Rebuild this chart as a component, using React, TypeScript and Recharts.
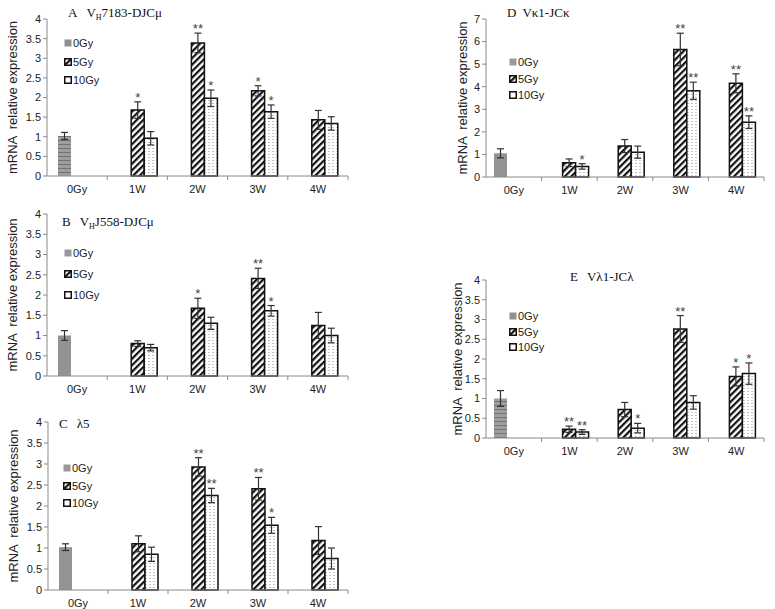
import { BarChart, Bar, XAxis, YAxis, ErrorBar, LabelList } from "recharts";

const FONT = '"Liberation Sans", Arial, sans-serif';
const SERIF = '"Liberation Serif", "Times New Roman", serif';
const AXIS = "#8a8a8a";

const categories = ["0Gy", "1W", "2W", "3W", "4W"];
const ticks4 = [0, 0.5, 1, 1.5, 2, 2.5, 3, 3.5, 4];
const ticks7 = [0, 1, 2, 3, 4, 5, 6, 7];

// A  VH7183-DJCmu
const aCtrl = [1.02, null, null, null, null];
const aCtrlErr = [0.09, null, null, null, null];
const a5Gy = [null, 1.68, 3.39, 2.17, 1.43];
const a5GyErr = [null, 0.21, 0.25, 0.13, 0.24];
const a5GyStar = ["", "*", "**", "*", ""];
const a10Gy = [null, 0.96, 1.98, 1.64, 1.34];
const a10GyErr = [null, 0.17, 0.21, 0.17, 0.17];
const a10GyStar = ["", "", "*", "*", ""];

// B  VHJ558-DJCmu
const bCtrl = [1.0, null, null, null, null];
const bCtrlErr = [0.12, null, null, null, null];
const b5Gy = [null, 0.8, 1.67, 2.41, 1.25];
const b5GyErr = [null, 0.07, 0.25, 0.25, 0.32];
const b5GyStar = ["", "", "*", "**", ""];
const b10Gy = [null, 0.7, 1.3, 1.61, 1.0];
const b10GyErr = [null, 0.08, 0.15, 0.13, 0.18];
const b10GyStar = ["", "", "", "*", ""];

// C  lambda5
const cCtrl = [1.02, null, null, null, null];
const cCtrlErr = [0.08, null, null, null, null];
const c5Gy = [null, 1.1, 2.93, 2.41, 1.18];
const c5GyErr = [null, 0.19, 0.22, 0.27, 0.33];
const c5GyStar = ["", "", "**", "**", ""];
const c10Gy = [null, 0.85, 2.25, 1.54, 0.75];
const c10GyErr = [null, 0.17, 0.17, 0.19, 0.25];
const c10GyStar = ["", "", "**", "*", ""];

// D  Vk1-JCk
const dCtrl = [1.05, null, null, null, null];
const dCtrlErr = [0.2, null, null, null, null];
const d5Gy = [null, 0.63, 1.37, 5.65, 4.15];
const d5GyErr = [null, 0.17, 0.29, 0.72, 0.42];
const d5GyStar = ["", "", "", "**", "**"];
const d10Gy = [null, 0.47, 1.1, 3.82, 2.43];
const d10GyErr = [null, 0.12, 0.27, 0.38, 0.28];
const d10GyStar = ["", "*", "", "**", "**"];

// E  Vl1-JCl
const eCtrl = [1.0, null, null, null, null];
const eCtrlErr = [0.2, null, null, null, null];
const e5Gy = [null, 0.22, 0.72, 2.76, 1.56];
const e5GyErr = [null, 0.08, 0.18, 0.34, 0.24];
const e5GyStar = ["", "**", "", "**", "*"];
const e10Gy = [null, 0.15, 0.25, 0.9, 1.63];
const e10GyErr = [null, 0.06, 0.12, 0.17, 0.27];
const e10GyStar = ["", "**", "*", "", "*"];

type Num = number | null;

function makeRows(
  ctrl: Num[], ctrlErr: Num[],
  g5: Num[], g5Err: Num[], g5Star: string[],
  g10: Num[], g10Err: Num[], g10Star: string[]
) {
  return categories.map((cat, i) => ({
    cat,
    g0: ctrl[i],
    e0: ctrlErr[i],
    g5: g5[i],
    e5: g5Err[i],
    s5: g5Star[i] ? `${g5Star[i]}|${g5Err[i]}` : "",
    g10: g10[i],
    e10: g10Err[i],
    s10: g10Star[i] ? `${g10Star[i]}|${g10Err[i]}` : "",
  }));
}

function CatTick(props: any) {
  const { x, y, payload, band } = props;
  return (
    <g>
      <line x1={x + band / 2} x2={x + band / 2} y1={y} y2={y + 4} stroke={AXIS} />
      <text x={x} y={y + 17} textAnchor="middle" fontSize={11} fontFamily={FONT} fill="#222">
        {payload.value}
      </text>
    </g>
  );
}

function YLabel(props: any) {
  const vb = props.viewBox || {};
  const left = vb.x ?? 0;
  const width = vb.width ?? props.axisW;
  const cx = left + width - props.gap;
  const cy = (vb.y ?? props.top) + (vb.height ?? props.h) / 2;
  return (
    <text
      x={cx}
      y={cy}
      transform={`rotate(-90 ${cx} ${cy})`}
      textAnchor="middle"
      dominantBaseline="central"
      fontSize={13}
      fontFamily={FONT}
      fill="#222"
      style={{ whiteSpace: "pre" }}
    >
      {"mRNA  relative expression"}
    </text>
  );
}

function Star(props: any) {
  const raw = props.value;
  if (!raw) return null;
  const [s, e] = String(raw).split("|");
  const vb = props.viewBox && props.viewBox.x != null ? props.viewBox : props;
  const cx = Number(vb.x) + Number(vb.width) / 2;
  const top = Number(vb.y);
  const y = top - Number(e) * props.ppu;
  return (
    <text x={cx} y={y} textAnchor="middle" fontSize={13} fontFamily={FONT} fill="#444">
      {s}
    </text>
  );
}

function LegendBox({ x, y, step, striped }: { x: number; y: number; step: number; striped: boolean }) {
  const items = ["0Gy", "5Gy", "10Gy"];
  return (
    <div style={{ position: "absolute", left: x, top: y, fontFamily: FONT, fontSize: 11, color: "#222" }}>
      {items.map((label, i) => (
        <div
          key={label}
          style={{ position: "absolute", left: 0, top: i * step, height: 12, display: "flex", alignItems: "center", whiteSpace: "nowrap" }}
        >
          <svg width={8} height={8} style={{ marginRight: 1 }}>
            {i === 0 && <rect x={0.5} y={0.5} width={7} height={7} fill={striped ? "#8f8f8f" : "#999"} />}
            {i === 1 && <rect x={0.75} y={0.75} width={6.5} height={6.5} fill="url(#hatch)" stroke="#111" strokeWidth={1.5} />}
            {i === 2 && <rect x={0.75} y={0.75} width={6.5} height={6.5} fill="#fff" stroke="#111" strokeWidth={1.5} />}
          </svg>
          <span>{label}</span>
        </div>
      ))}
    </div>
  );
}

interface PanelProps {
  rows: ReturnType<typeof makeRows>;
  x: number;
  y: number;
  w: number;
  h: number;
  yMax: number;
  ticks: number[];
  striped: boolean;
  labelGap: number;
  title: React.ReactNode;
  titleX: number;
  titleY: number;
  legendX: number;
  legendY: number;
  legendStep: number;
}

function Panel(p: PanelProps) {
  const top = 10;
  const axisW = 48;
  const bottomH = 26;
  const ppu = p.h / p.yMax;
  const band = p.w / categories.length;
  return (
    <>
      <div style={{ position: "absolute", left: p.x - axisW, top: p.y - top }}>
        <BarChart
          width={p.w + axisW + 6}
          height={p.h + top + bottomH}
          data={p.rows}
          margin={{ top, right: 6, left: 0, bottom: 0 }}
          barSize={13}
          barGap={0}
        >
          <XAxis
            dataKey="cat"
            height={bottomH}
            stroke={AXIS}
            tickLine={false}
            tickSize={0}
            tickMargin={0}
            interval={0}
            tick={(t: any) => <CatTick {...t} band={band} />}
          />
          <YAxis
            width={axisW}
            domain={[0, p.yMax]}
            ticks={p.ticks}
            interval={0}
            stroke={AXIS}
            tickSize={4}
            tickMargin={2}
            tick={{ fill: "#222", fontSize: 11, fontFamily: FONT }}
            label={{ content: (l: any) => <YLabel {...l} gap={p.labelGap} axisW={axisW} top={top} h={p.h} /> }}
          />
          <Bar dataKey="g0" fill={p.striped ? "url(#hstripe)" : "#939393"} isAnimationActive={false}>
            <ErrorBar dataKey="e0" width={3.5} stroke="#333" strokeWidth={1.2} direction="y" />
          </Bar>
          <Bar dataKey="g5" fill="url(#hatch)" stroke="#111" strokeWidth={1.5} isAnimationActive={false}>
            <ErrorBar dataKey="e5" width={3.5} stroke="#333" strokeWidth={1.2} direction="y" />
            <LabelList dataKey="s5" content={(l: any) => <Star {...l} ppu={ppu} />} />
          </Bar>
          <Bar dataKey="g10" fill="url(#dots)" stroke="#111" strokeWidth={1.5} isAnimationActive={false}>
            <ErrorBar dataKey="e10" width={3.5} stroke="#333" strokeWidth={1.2} direction="y" />
            <LabelList dataKey="s10" content={(l: any) => <Star {...l} ppu={ppu} />} />
          </Bar>
        </BarChart>
      </div>
      <div
        style={{ position: "absolute", left: p.titleX, top: p.titleY, fontFamily: SERIF, fontSize: 13, color: "#111", whiteSpace: "nowrap", lineHeight: "14px" }}
      >
        {p.title}
      </div>
      <LegendBox x={p.legendX} y={p.legendY} step={p.legendStep} striped={p.striped} />
    </>
  );
}

const sub = { fontSize: 8, verticalAlign: "-3px" } as const;

export default function App() {
  const rowsA = makeRows(aCtrl, aCtrlErr, a5Gy, a5GyErr, a5GyStar, a10Gy, a10GyErr, a10GyStar);
  const rowsB = makeRows(bCtrl, bCtrlErr, b5Gy, b5GyErr, b5GyStar, b10Gy, b10GyErr, b10GyStar);
  const rowsC = makeRows(cCtrl, cCtrlErr, c5Gy, c5GyErr, c5GyStar, c10Gy, c10GyErr, c10GyStar);
  const rowsD = makeRows(dCtrl, dCtrlErr, d5Gy, d5GyErr, d5GyStar, d10Gy, d10GyErr, d10GyStar);
  const rowsE = makeRows(eCtrl, eCtrlErr, e5Gy, e5GyErr, e5GyStar, e10Gy, e10GyErr, e10GyStar);

  return (
    <div style={{ position: "absolute", left: 0, top: 0, width: 775, height: 609, background: "#fff", overflow: "hidden" }}>
      <svg width={0} height={0} style={{ position: "absolute" }}>
        <defs>
          <pattern id="hatch" width={4.6} height={4.6} patternUnits="userSpaceOnUse" patternTransform="rotate(45)">
            <rect width={4.6} height={4.6} fill="#fff" />
            <line x1={1.1} y1={0} x2={1.1} y2={4.6} stroke="#111" strokeWidth={2.2} />
          </pattern>
          <pattern id="dots" width={4} height={3} patternUnits="userSpaceOnUse">
            <rect width={4} height={3} fill="#fff" />
            <rect x={1.5} y={1} width={1} height={1} fill="#8a8a8a" />
          </pattern>
          <pattern id="hstripe" width={4} height={4} patternUnits="userSpaceOnUse">
            <rect width={4} height={4} fill="#9e9e9e" />
            <rect y={3} width={4} height={1} fill="#747474" />
          </pattern>
        </defs>
      </svg>

      <Panel
        rows={rowsA} x={47} y={19} w={301} h={157} yMax={4} ticks={ticks4} striped labelGap={35}
        title={<><span>A</span><span style={{ marginLeft: 9 }}>V<span style={sub}>H</span>7183-DJCμ</span></>}
        titleX={68} titleY={6} legendX={64} legendY={37} legendStep={18.5}
      />
      <Panel
        rows={rowsB} x={47} y={214} w={301} h={162} yMax={4} ticks={ticks4} striped={false} labelGap={35}
        title={<><span>B</span><span style={{ marginLeft: 9 }}>V<span style={sub}>H</span>J558-DJCμ</span></>}
        titleX={62} titleY={215} legendX={64} legendY={247} legendStep={21}
      />
      <Panel
        rows={rowsC} x={48} y={422} w={300} h={168} yMax={4} ticks={ticks4} striped={false} labelGap={35}
        title={<><span>C</span><span style={{ marginLeft: 9 }}>λ5</span></>}
        titleX={59} titleY={417} legendX={63} legendY={462} legendStep={17.5}
      />
      <Panel
        rows={rowsD} x={486} y={19} w={278} h={158} yMax={7} ticks={ticks7} striped={false} labelGap={24}
        title={<><span>D</span><span style={{ marginLeft: 6 }}>Vκ1-JCκ</span></>}
        titleX={507} titleY={6} legendX={509} legendY={56} legendStep={16.5}
      />
      <Panel
        rows={rowsE} x={486} y={280} w={278} h={158} yMax={4} ticks={ticks4} striped labelGap={29}
        title={<><span>E</span><span style={{ marginLeft: 9 }}>Vλ1-JCλ</span></>}
        titleX={570} titleY={270} legendX={509} legendY={310} legendStep={15.5}
      />
    </div>
  );
}
